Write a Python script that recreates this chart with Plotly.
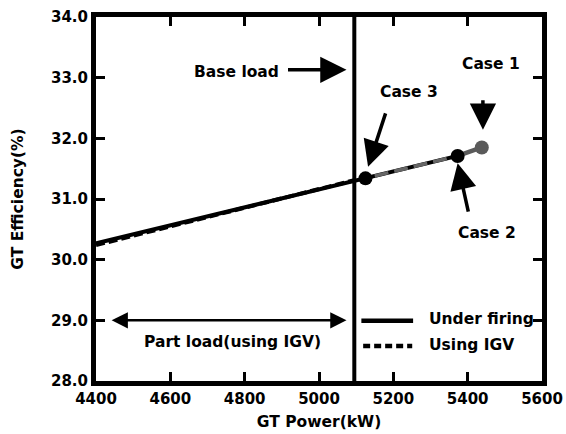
import plotly.graph_objects as go

# ---- data ----
under_firing_kw = [4400, 5125, 5373]
under_firing_eff = [30.27, 31.34, 31.71]
igv_kw = [4400, 5095]
igv_eff = [30.24, 31.31]
ext_kw = [5150, 5373]
ext_eff = [31.38, 31.71]
ext2_kw = [5373, 5438]
ext2_eff = [31.71, 31.85]
case_names = ["Case 1", "Case 2", "Case 3"]
case_kw = [5438, 5373, 5125]
case_eff = [31.85, 31.71, 31.34]
case_colors = ["#5a5a5a", "black", "black"]
base_load_kw = 5095
x_ticks = [4400, 4600, 4800, 5000, 5200, 5400, 5600]
y_ticks = [28, 29, 30, 31, 32, 33, 34]

FONT = "DejaVu Sans, Verdana, sans-serif"

fig = go.Figure()
fig.add_trace(go.Scatter(x=igv_kw, y=igv_eff, mode="lines", name="Using IGV", showlegend=False,
                         line=dict(color="black", width=4, dash="9px,4px")))
fig.add_trace(go.Scatter(x=under_firing_kw, y=under_firing_eff, mode="lines", name="Under firing",
                         showlegend=False, line=dict(color="black", width=4)))
fig.add_trace(go.Scatter(x=ext_kw, y=ext_eff, mode="lines", showlegend=False,
                         line=dict(color="#666666", width=3.5, dash="14px,6px")))
fig.add_trace(go.Scatter(x=ext2_kw, y=ext2_eff, mode="lines", showlegend=False,
                         line=dict(color="#5a5a5a", width=4.5)))
fig.add_trace(go.Scatter(x=[base_load_kw, base_load_kw], y=[28, 34], mode="lines",
                         showlegend=False, line=dict(color="black", width=4)))
fig.add_trace(go.Scatter(x=case_kw, y=case_eff, mode="markers", showlegend=False,
                         text=case_names, marker=dict(size=14, color=case_colors)))

ann_font = dict(family=FONT, size=15.5, color="black")
arrow = dict(showarrow=True, arrowhead=2, arrowsize=1.5, arrowwidth=3.5, arrowcolor="black", text="")
anns = [
    dict(x=base_load_kw - 21, y=33.13, ax=-60, ay=0, **arrow),
    dict(x=4778, y=33.10, text="<b>Base load</b>", showarrow=False, font=ann_font),
    dict(x=5441, y=32.14, ax=0, ay=-31, **arrow),
    dict(x=5463, y=33.22, text="<b>Case 1</b>", showarrow=False, font=ann_font),
    dict(x=5132, y=31.53, ax=18, ay=-55, **arrow),
    dict(x=5242, y=32.76, text="<b>Case 3</b>", showarrow=False, font=ann_font),
    dict(x=5373, y=31.59, ax=11, ay=50, **arrow),
    dict(x=5451, y=30.44, text="<b>Case 2</b>", showarrow=False, font=ann_font),
    dict(x=base_load_kw - 21, y=29.0, ax=4438, ay=29.0, axref="x", ayref="y", text="",
         showarrow=True, arrowhead=2, startarrowhead=2, arrowside="end+start",
         arrowsize=1.3, startarrowsize=1.3, arrowwidth=2.5, arrowcolor="black"),
    dict(x=4768, y=28.65, text="<b>Part load(using IGV)</b>", showarrow=False, font=ann_font),
    # legend labels
    dict(x=0.742, y=0.170, xref="paper", yref="paper", xanchor="left", yanchor="middle",
         showarrow=False, text="<b>Under firing</b>", font=ann_font),
    dict(x=0.742, y=0.099, xref="paper", yref="paper", xanchor="left", yanchor="middle",
         showarrow=False, text="<b>Using IGV</b>", font=ann_font),
]
shapes = [
    dict(type="line", xref="paper", yref="paper", x0=0.595, x1=0.711, y0=0.1657, y1=0.1657,
         line=dict(color="black", width=4.5)),
    dict(type="line", xref="paper", yref="paper", x0=0.599, x1=0.709, y0=0.096, y1=0.096,
         line=dict(color="black", width=4.5, dash="7px,4px")),
]

fig.update_layout(
    width=566, height=434,
    margin=dict(l=96, r=24, t=17, b=53),
    plot_bgcolor="white", paper_bgcolor="white",
    font=dict(family=FONT, size=15, color="black"),
    annotations=anns, shapes=shapes,
    showlegend=False,
    xaxis=dict(range=[4400, 5600], tickvals=x_ticks, ticktext=[f"<b>{v}</b>" for v in x_ticks],
               showgrid=False, zeroline=False, showline=True, linewidth=5, linecolor="black",
               mirror="ticks", ticks="inside", ticklen=9, tickwidth=3, tickcolor="black",
               automargin=False,
               title=dict(text="<b>GT Power(kW)</b>", font=dict(size=15.5), standoff=11),
               tickfont=dict(size=15)),
    yaxis=dict(range=[28, 34], tickvals=y_ticks, ticktext=[f"<b>{v:.1f}</b>" for v in y_ticks],
               showgrid=False, zeroline=False, showline=True, linewidth=5, linecolor="black",
               mirror="ticks", ticks="inside", ticklen=9, tickwidth=3, tickcolor="black",
               automargin=False,
               title=dict(text="<b>GT Efficiency(%)</b>", font=dict(size=15.5), standoff=25),
               tickfont=dict(size=15)),
)

fig.write_html("out.html")
